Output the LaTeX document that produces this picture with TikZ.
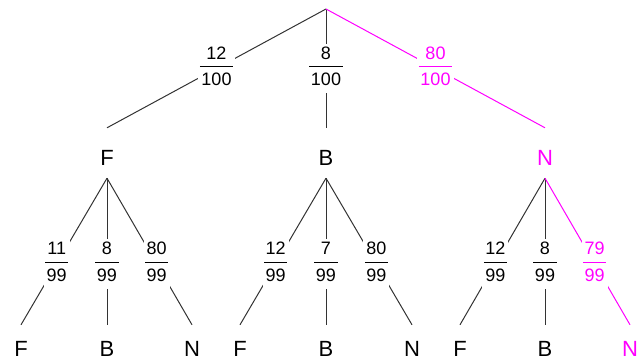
\documentclass[tikz,border=0pt]{standalone}
\usepackage{fontspec}
\setmainfont{Liberation Sans}
\usetikzlibrary{positioning}
\definecolor{hilite}{RGB}{255,0,255}
\setlength{\arrayrulewidth}{1.1pt}
\newcommand{\pr}[2]{\begin{tabular}{@{\hspace{1.5pt}}c@{\hspace{1.5pt}}}#1\\[1pt]\hline\rule{0pt}{18pt}#2\end{tabular}}

\begin{document}
\begin{tikzpicture}[
  x=1pt, y=-1pt,
  edge/.style={draw=black!80, line width=1pt},
  pick/.style={draw=hilite, line width=1pt},
  mid/.style={inner sep=0pt, anchor=base, text height=38pt, text depth=12pt,
              font=\fontsize{22}{24}\selectfont},
  leaf/.style={inner sep=0pt, anchor=base, text height=32pt, text depth=0pt,
               font=\fontsize{22}{24}\selectfont},
  prob/.style={fill=white, inner sep=1.5pt, font=\fontsize{18}{20}\selectfont}
]
  \useasboundingbox (0,0) rectangle (643,363);
  \coordinate (top) at (326,9);
  \node[mid]               (f)  at (107,166) {F};
  \node[mid]               (b)  at (326,166) {B};
  \node[mid, text=hilite]  (n)  at (545,166) {N};
  \node[leaf]              (ff) at (21,357)  {F};
  \node[leaf]              (fb) at (107,357) {B};
  \node[leaf]              (fn) at (192,357) {N};
  \node[leaf]              (bf) at (240,357) {F};
  \node[leaf]              (bb) at (326,357) {B};
  \node[leaf]              (bn) at (412,357) {N};
  \node[leaf]              (nf) at (460,357) {F};
  \node[leaf]              (nb) at (545,357) {B};
  \node[leaf, text=hilite] (nn) at (630,357) {N};
  % first draw
  \draw[edge] (top) -- node[prob] {\pr{12}{100}} (f.north);
  \draw[edge] (top) -- node[prob] {\pr{8}{100}} (b.north);
  \draw[pick] (top) -- node[prob, text=hilite] {\pr{80}{100}} (n.north);
  % second draw
  \draw[edge] (f.south) -- node[prob, pos=0.585] {\pr{11}{99}} (ff.north);
  \draw[edge] (f.south) -- node[prob, pos=0.585] {\pr{8}{99}} (fb.north);
  \draw[edge] (f.south) -- node[prob, pos=0.585] {\pr{80}{99}} (fn.north);
  \draw[edge] (b.south) -- node[prob, pos=0.585] {\pr{12}{99}} (bf.north);
  \draw[edge] (b.south) -- node[prob, pos=0.585] {\pr{7}{99}} (bb.north);
  \draw[edge] (b.south) -- node[prob, pos=0.585] {\pr{80}{99}} (bn.north);
  \draw[edge] (n.south) -- node[prob, pos=0.585] {\pr{12}{99}} (nf.north);
  \draw[edge] (n.south) -- node[prob, pos=0.585] {\pr{8}{99}} (nb.north);
  \draw[pick] (n.south) -- node[prob, pos=0.585, text=hilite] {\pr{79}{99}} (nn.north);
\end{tikzpicture}
\end{document}
